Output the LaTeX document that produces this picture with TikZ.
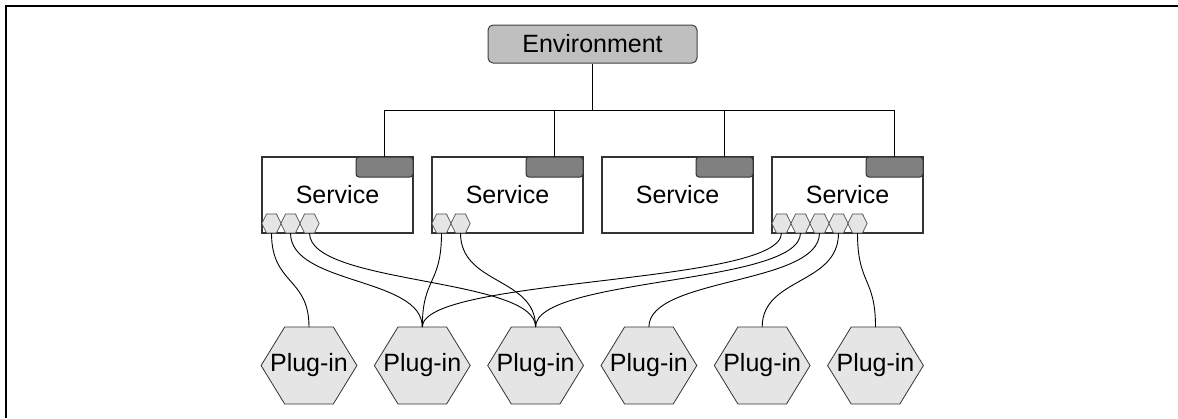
\documentclass[tikz,border=0pt]{standalone}
\usepackage{fontspec}
\setmainfont{Liberation Sans}
\usepackage{xcolor}
\usepackage{tikz}
\usetikzlibrary{shapes.symbols}

\tikzset{
  envbox/.style={draw=black!75, fill=gray!50, rounded corners=5pt, line width=1pt,
    minimum width=209pt, minimum height=38pt, inner sep=0pt},
  servicebox/.style={draw=black!80, fill=white, line width=1.1pt, outer sep=0pt,
    minimum width=151pt, minimum height=76pt, inner sep=0pt},
  tabbox/.style={draw=black!80, fill=gray, rounded corners=3pt, line width=1pt,
    minimum width=57pt, minimum height=20pt, inner sep=0pt, outer sep=0pt},
  port/.style={draw=black!70, fill=gray!20, line width=0.7pt, signal,
    signal to=east and west, signal pointer angle=128,
    minimum width=19pt, minimum height=19pt,
    inner xsep=5pt, inner ysep=9.5pt, outer sep=0pt},
  plugin/.style={draw=black!80, fill=gray!20, line width=0.8pt, signal,
    signal to=east and west, signal pointer angle=117, minimum height=77pt,
    inner xsep=-14.6pt, inner ysep=0pt, outer sep=0pt},
  wire/.style={black, line width=0.9pt}
}

\begin{document}
\begin{tikzpicture}[x=1pt, y=-1pt, font=\fontsize{25}{28}\selectfont]
  \useasboundingbox (0,0) rectangle (1178,418);
  % Frame
  \draw[line width=1.6pt] (6,418) -- (6,6) -- (1178,6);

  % Environment on top
  \node[envbox] (env) at (592.5,44) {Environment};

  % Services with their tabs
  \foreach \s in {1,...,4} {
    \node[servicebox] (s\s) at ({337.5+170*(\s-1)},195) {Service};
    \node[tabbox, anchor=north east] (t\s) at (s\s.north east) {};
  }

  % Tree from the environment to the tabs
  \coordinate (bus) at (0,110);
  \draw[wire] (env.south) -- (env.south |- bus);
  \draw[wire] (t1.north) -- (t1.north |- bus) -- (t4.north |- bus) -- (t4.north);
  \foreach \s in {2,3}
    \draw[wire] (t\s.north |- bus) -- (t\s.north);

  % Ports along the bottom of the services
  \foreach \s/\n in {1/3,2/2,4/5} {
    \foreach \i in {1,...,\n}
      \node[port, xshift={9.5+19*(\i-1)}, yshift=9.5] (s\s p\i) at (s\s.south west) {};
  }

  % Plug-ins
  \foreach \p in {1,...,6}
    \node[plugin] (p\p) at ({309+113.3*(\p-1)},365.5) {Plug-in};

  % Wires from ports to plug-ins
  \foreach \a/\b in {s1p1/p1, s1p2/p2, s1p3/p3, s2p1/p2, s2p2/p3,
                     s4p1/p2, s4p2/p3, s4p3/p4, s4p4/p5, s4p5/p6}
    \draw[wire] (\a.south) .. controls +(0,52) and +(0,-50) .. (\b.north);
\end{tikzpicture}
\end{document}
